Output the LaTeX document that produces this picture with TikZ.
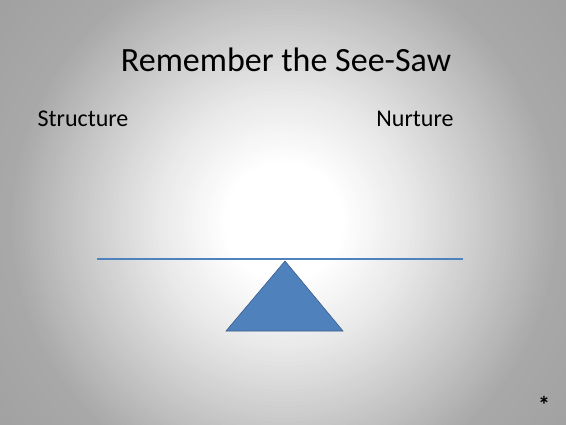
\documentclass[tikz,border=0pt]{standalone}
\usepackage{fontspec}
\setmainfont{Carlito}
\usetikzlibrary{positioning}

\definecolor{beamblue}{HTML}{4F81BD}
\definecolor{beamedge}{HTML}{385D8A}

\begin{document}
\begin{tikzpicture}[
    x=1pt, y=1pt,
    title/.style={font=\fontsize{34}{40}\selectfont, inner sep=0pt},
    side/.style={font=\fontsize{24}{28}\selectfont, inner sep=0pt},
    beam/.style={draw=beamblue, line width=1.6pt},
    pivot/.style={fill=beamblue, draw=beamedge, line width=0.6pt, line join=miter}
]

    % Background: grey at the edges, white in the middle
    \useasboundingbox (0,0) rectangle (566,-424);
    \begin{scope}
        \clip (0,0) rectangle (566,-424);
        \foreach \r in {364,360,...,4} {
            \pgfmathsetmacro{\k}{9*min(1,max(0,(\r-60)/70)) + 16*min(1,max(0,(\r-130)/95))
                + 9*min(1,max(0,(\r-225)/50)) + 3*min(1,max(0,(\r-275)/86))}
            \fill[black!\k!white] (284,-222) circle (\r);
        }
    \end{scope}

    % Texts
    \node[title] (heading) at (286,-60) {Remember the See-Saw};
    \node[side] (structure) at (83,-119) {Structure};
    \node[side] (nurture) at (415,-119) {Nurture};
    \node[font=\bfseries\fontsize{24}{24}\selectfont, inner sep=0pt] (star) at (544,-405) {*};

    % See-saw
    \coordinate (beamL) at (97,-259);
    \coordinate (beamR) at (463,-259);
    \coordinate (apex) at (285,-261);
    \coordinate (baseL) at (226,-331);
    \coordinate (baseR) at (343,-331);

    \draw[beam] (beamL) -- (beamR);
    \draw[pivot] (apex) -- (baseR) -- (baseL) -- cycle;

\end{tikzpicture}
\end{document}
